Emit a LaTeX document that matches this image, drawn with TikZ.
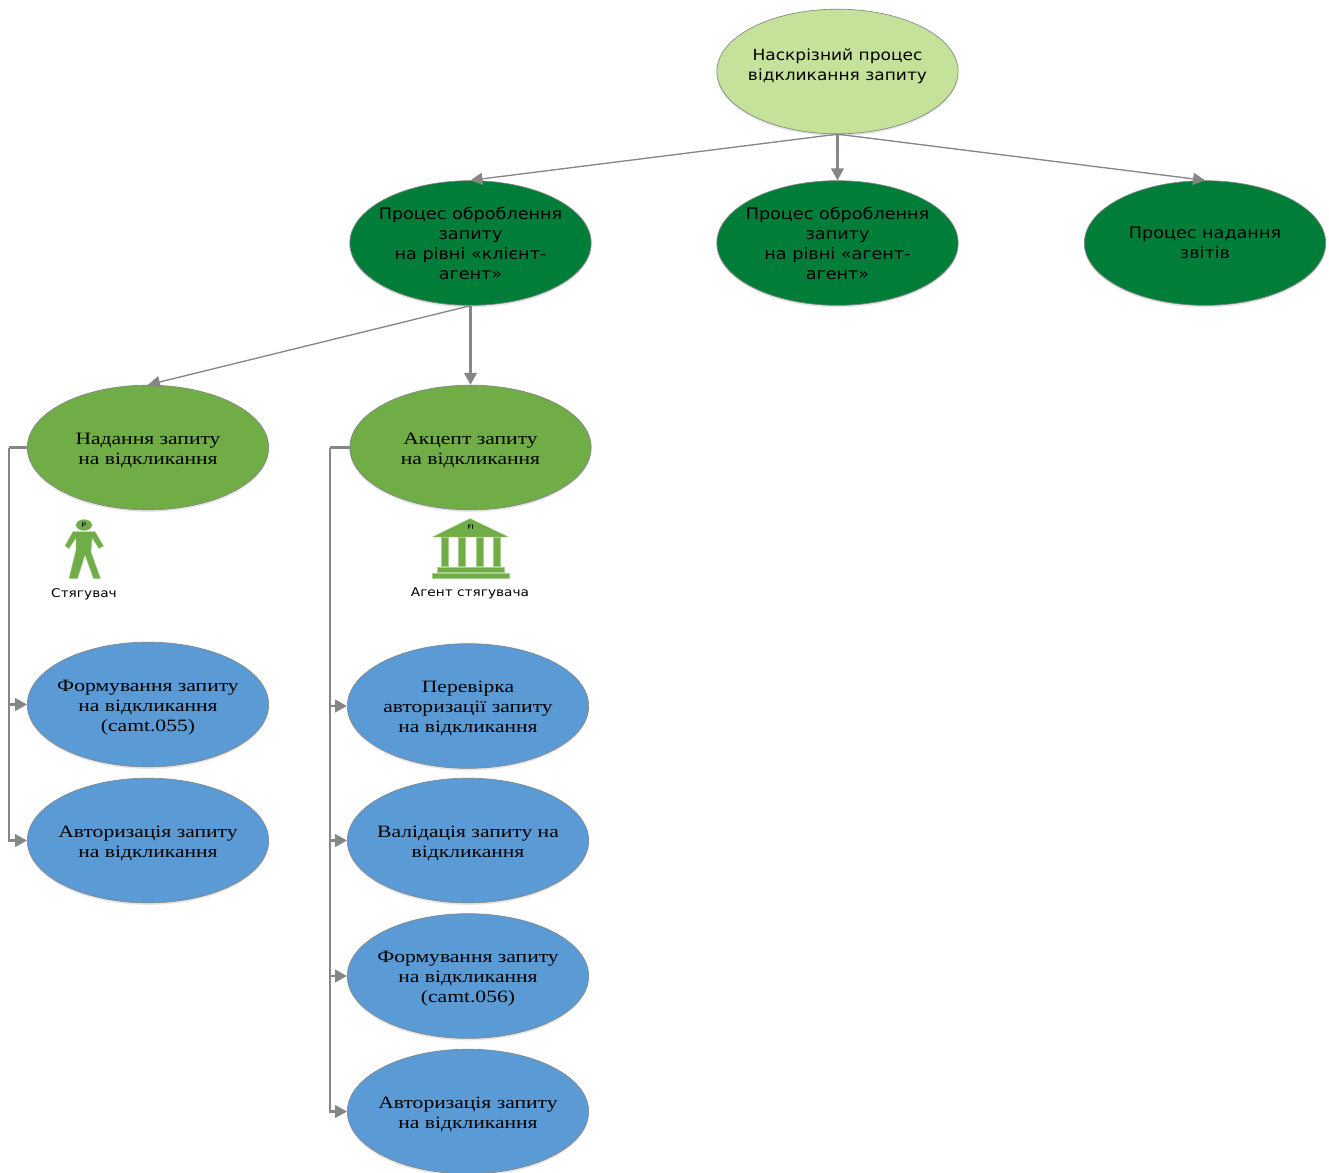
\documentclass[tikz,border=0pt]{standalone}
\usepackage{fontspec}
\setmainfont{Liberation Serif}
\newfontfamily\serwide[FakeStretch=1.245]{Liberation Serif}
\newfontfamily\sanswide[FakeStretch=1.11]{DejaVu Sans}
\newfontfamily\capwide[FakeStretch=1.14]{DejaVu Sans}
\usetikzlibrary{shapes.geometric,arrows.meta,shadows}
\definecolor{lime}{HTML}{C5E29B}
\definecolor{dgreen}{HTML}{007E39}
\definecolor{mgreen}{HTML}{70AD47}
\definecolor{sblue}{HTML}{5B9BD5}
\definecolor{conn}{HTML}{868686}
\newcommand{\lineup}{\rule{0pt}{13.5pt}}
\tikzset{
  x=0.75pt,y=-0.75pt,
  oval/.style={ellipse,draw=conn,line width=0.5pt,inner xsep=-40pt,inner ysep=-5pt,minimum width=181pt,minimum height=93.5pt,align=center,text=black,
    drop shadow={shadow xshift=0pt,shadow yshift=-1.5pt,opacity=0.10,fill=black}},
  topoval/.style={oval,fill=lime,font=\sanswide\fontsize{11.5}{15}\selectfont},
  darkoval/.style={oval,fill=dgreen,font=\sanswide\fontsize{11.9}{15}\selectfont},
  midoval/.style={oval,fill=mgreen,font=\serwide\fontsize{13}{15}\selectfont,
    execute at end node={\rule[-3.5pt]{0pt}{3.5pt}}},
  blueoval/.style={midoval,fill=sblue},
  link/.style={conn,line width=1.6pt,-{Stealth[length=9pt,width=9.5pt,inset=0pt]}},
  thinlink/.style={conn,line width=1pt,-{Stealth[length=9pt,width=9pt,inset=0pt]}},
  bus/.style={conn,line width=1.6pt},
  caption/.style={font=\capwide\fontsize{9}{10}\selectfont,inner sep=0pt},
  icon/.style={fill=mgreen,draw=mgreen!60!white,line width=0.3pt},
}
\begin{document}
\begin{tikzpicture}
\useasboundingbox (0,0) rectangle (1329,1172);
\node[topoval]  (top) at (837.5,71.5) {Наскрізний процес\\відкликання запиту\\[-5pt]\mbox{}};
\node[darkoval] (d1) at (470.5,243) {Процес оброблення\\запиту\\на рівні «клієнт-\\агент»};
\node[darkoval] (d2) at (837.5,243) {Процес оброблення\\запиту\\на рівні «агент-\\агент»};
\node[darkoval] (d3) at (1205,243) {Процес надання\\звітів};
\node[midoval] (m1) at (148,447.5) {\lineup Надання запиту\\на відкликання};
\node[midoval] (m2) at (470.5,447.5) {\lineup Акцепт запиту\\на відкликання};
\node[blueoval] (b1) at (148,704.5) {\lineup Формування запиту\\на відкликання\\(camt.055)};
\node[blueoval] (b2) at (148,840.5) {\lineup Авторизація запиту\\на відкликання};
\node[blueoval] (c1) at (468,706) {\lineup Перевірка\\авторизації запиту\\на відкликання};
\node[blueoval] (c2) at (468,840.5) {\lineup Валідація запиту на\\відкликання};
\node[blueoval] (c3) at (468,976) {\lineup Формування запиту\\на відкликання\\(camt.056)};
\node[blueoval] (c4) at (468,1111.5) {\lineup Авторизація запиту\\на відкликання};
\draw[thinlink] (top.south) -- (d1.north);
\draw[link] (top.south) -- (d2.north);
\draw[thinlink] (top.south) -- (d3.north);
\draw[thinlink] (d1.south) -- (m1.north);
\draw[link] (d1.south) -- (m2.north);
\coordinate (busa) at (9,447.5);
\coordinate (busb) at (330,447.5);
\draw[bus] (m1.west) -- (busa);
\draw[bus] (m2.west) -- (busb);
\draw[link] (busa) |- (b1.west);
\draw[link] (busa) |- (b2.west);
\draw[link] (busb) |- (c1.west);
\draw[link] (busb) |- (c2.west);
\draw[link] (busb) |- (c3.west);
\draw[link] (busb) |- (c4.west);
% person icon
\fill[icon] (84,525) ellipse [x radius=8,y radius=5.5];
\fill[icon] (73,531.5) -- (95,531.5) -- (103.5,546) -- (99,548.5) -- (92,538) -- (91,552) -- (100.5,578.5) -- (93.5,578.5) -- (85,555) -- (77.5,578.5) -- (69,578.5) -- (76,550) -- (76,538) -- (69,548.5) -- (65,546) -- cycle;
\node[font=\sffamily\bfseries\fontsize{5}{5}\selectfont,inner sep=0pt] (pl) at (84,525) {P};
\node[caption] (pc) at (84,594) {Стягувач};
% bank icon
\fill[icon] (432.5,537) -- (470,518.5) -- (508.5,537) -- cycle;
\fill[icon] (441,537.5) rectangle (448.5,566);
\fill[icon] (458.3,537.5) rectangle (465.3,566);
\fill[icon] (475.7,537.5) rectangle (482.7,566);
\fill[icon] (492.7,537.5) rectangle (499.7,566);
\fill[icon] (436.7,567) rectangle (504,571.7);
\fill[icon] (432,572.7) rectangle (508.7,578);
\node[font=\sffamily\bfseries\fontsize{5}{5}\selectfont,inner sep=0pt] (fl) at (470.7,527) {FI};
\node[caption] (bc) at (470,593) {Агент стягувача};
\end{tikzpicture}
\end{document}
